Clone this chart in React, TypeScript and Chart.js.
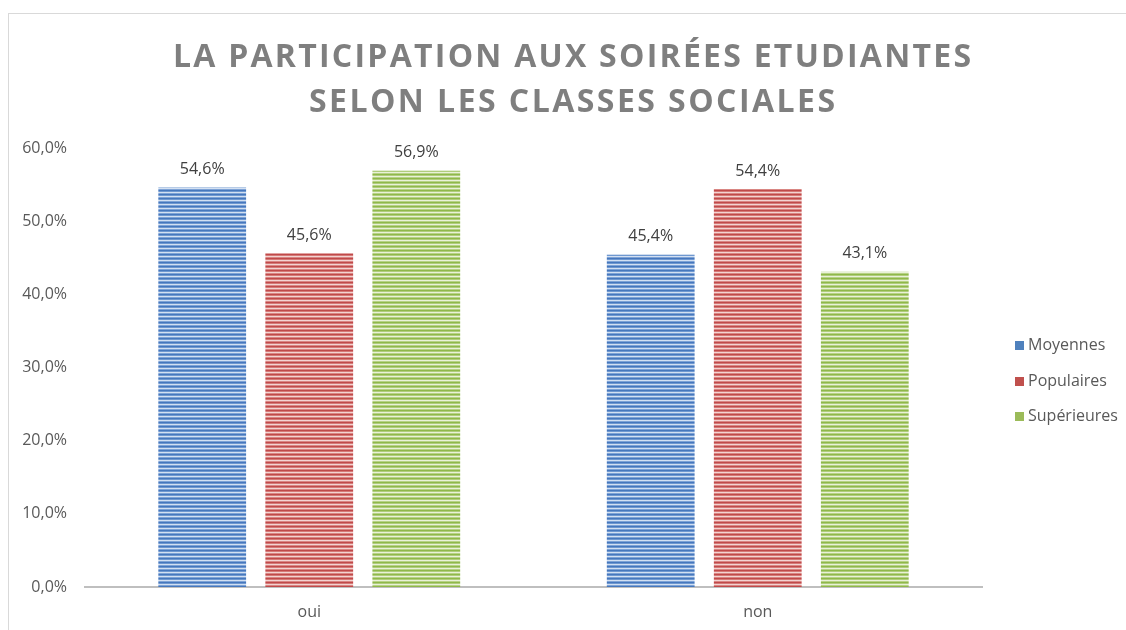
import React, { useEffect, useRef } from "react";
import { Chart, registerables } from "chart.js";

Chart.register(...registerables);

const categories = ["oui", "non"];
const seriesNames = ["Moyennes", "Populaires", "Supérieures"];
const moyennes = [54.6, 45.4];
const populaires = [45.6, 54.4];
const superieures = [56.9, 43.1];
const yTicks = [0, 10, 20, 30, 40, 50, 60];
const titleLines = ["LA PARTICIPATION AUX SOIRÉES ETUDIANTES", "SELON LES CLASSES SOCIALES"];

const baseColors = ["#4f81bd", "#c0504d", "#9bbb59"];
const stripeSets = [
  ["#4677bd", "#6f98d0", "#d3e0f2", "#7ea3d6"],
  ["#c0494a", "#d57a77", "#f3d3d2", "#d98683"],
  ["#8fb84a", "#b0cd7c", "#e9f1d8", "#b7d286"],
];

const FONT = "'Open Sans', 'Noto Sans', sans-serif";

function makePattern(cols: string[]) {
  const c = document.createElement("canvas");
  c.width = 4;
  c.height = 4;
  const g = c.getContext("2d")!;
  cols.forEach((col, i) => {
    g.fillStyle = col;
    g.fillRect(0, i, 4, 1);
  });
  const ctx = document.createElement("canvas").getContext("2d")!;
  return ctx.createPattern(c, "repeat");
}

const fmt = (v: number) => v.toFixed(1).replace(".", ",") + "%";

const overlayPlugin = {
  id: "overlay",
  afterDatasetsDraw(chart: any) {
    const ctx = chart.ctx;
    ctx.save();
    ctx.font = `16px ${FONT}`;
    ctx.fillStyle = "#404040";
    ctx.textAlign = "center";
    ctx.textBaseline = "middle";
    chart.data.datasets.forEach((ds: any, i: number) => {
      const meta = chart.getDatasetMeta(i);
      meta.data.forEach((el: any, j: number) => {
        ctx.fillText(fmt(ds.data[j]), el.x, el.y - 18);
      });
    });
    ctx.restore();
  },
  afterDraw(chart: any) {
    const ctx = chart.ctx;
    ctx.save();
    // title
    ctx.fillStyle = "#7f7f7f";
    ctx.font = `bold 32px ${FONT}`;
    ctx.textAlign = "center";
    ctx.textBaseline = "middle";
    const targets = [798, 526];
    const centers = [44, 89];
    titleLines.forEach((line, i) => {
      (ctx as any).letterSpacing = "0px";
      const w = ctx.measureText(line).width;
      const ls = Math.max(0, (targets[i] - w) / (line.length - 1));
      (ctx as any).letterSpacing = `${ls.toFixed(2)}px`;
      ctx.fillText(line, 563 + ls / 2, centers[i]);
    });
    (ctx as any).letterSpacing = "0px";
    // legend
    ctx.font = `16px ${FONT}`;
    ctx.textAlign = "left";
    const ys = [331, 367, 402];
    seriesNames.forEach((name, i) => {
      ctx.fillStyle = baseColors[i];
      ctx.fillRect(1006, ys[i] - 4, 9, 9);
      ctx.fillStyle = "#595959";
      ctx.fillText(name, 1019, ys[i]);
    });
    ctx.restore();
  },
};

export default function App() {
  const ref = useRef<HTMLCanvasElement>(null);
  useEffect(() => {
    const canvas = ref.current!;
    const series = [moyennes, populaires, superieures];
    const chart = new Chart(canvas, {
      type: "bar",
      data: {
        labels: categories,
        datasets: series.map((d, i) => ({
          label: seriesNames[i],
          data: d,
          backgroundColor: makePattern(stripeSets[i]) as any,
          borderWidth: 0,
          categoryPercentage: 0.716,
          barPercentage: 0.82,
        })),
      },
      options: {
        responsive: false,
        animation: false,
        layout: { padding: { top: 134, left: 0, right: 145, bottom: 0 } },
        plugins: {
          legend: { display: false },
          title: { display: false },
          tooltip: { enabled: false },
        },
        scales: {
          x: {
            grid: { display: false, drawTicks: false },
            border: { display: true, color: "#bfbfbf", width: 2 },
            ticks: { color: "#595959", font: { family: FONT, size: 16 }, padding: 16 },
            afterFit: (s: any) => { s.height = 44; },
          },
          y: {
            min: 0,
            max: 60,
            grid: { display: false, drawTicks: false },
            border: { display: false },
            afterBuildTicks: (s: any) => { s.ticks = yTicks.map((v) => ({ value: v })); },
            ticks: {
              color: "#595959",
              font: { family: FONT, size: 16 },
              padding: 18,
              callback: (v: any) => fmt(Number(v)),
            },
            afterFit: (s: any) => { s.width = 76; },
          },
        },
      },
      plugins: [overlayPlugin],
    });
    return () => chart.destroy();
  }, []);
  return (
    <div
      style={{
        position: "fixed",
        left: 8,
        top: 13,
        width: 1118,
        height: 617,
        borderTop: "1px solid #d9d9d9",
        borderLeft: "1px solid #d9d9d9",
        background: "#fff",
      }}
    >
      <canvas ref={ref} width={1118} height={617} style={{ display: "block" }} />
    </div>
  );
}
